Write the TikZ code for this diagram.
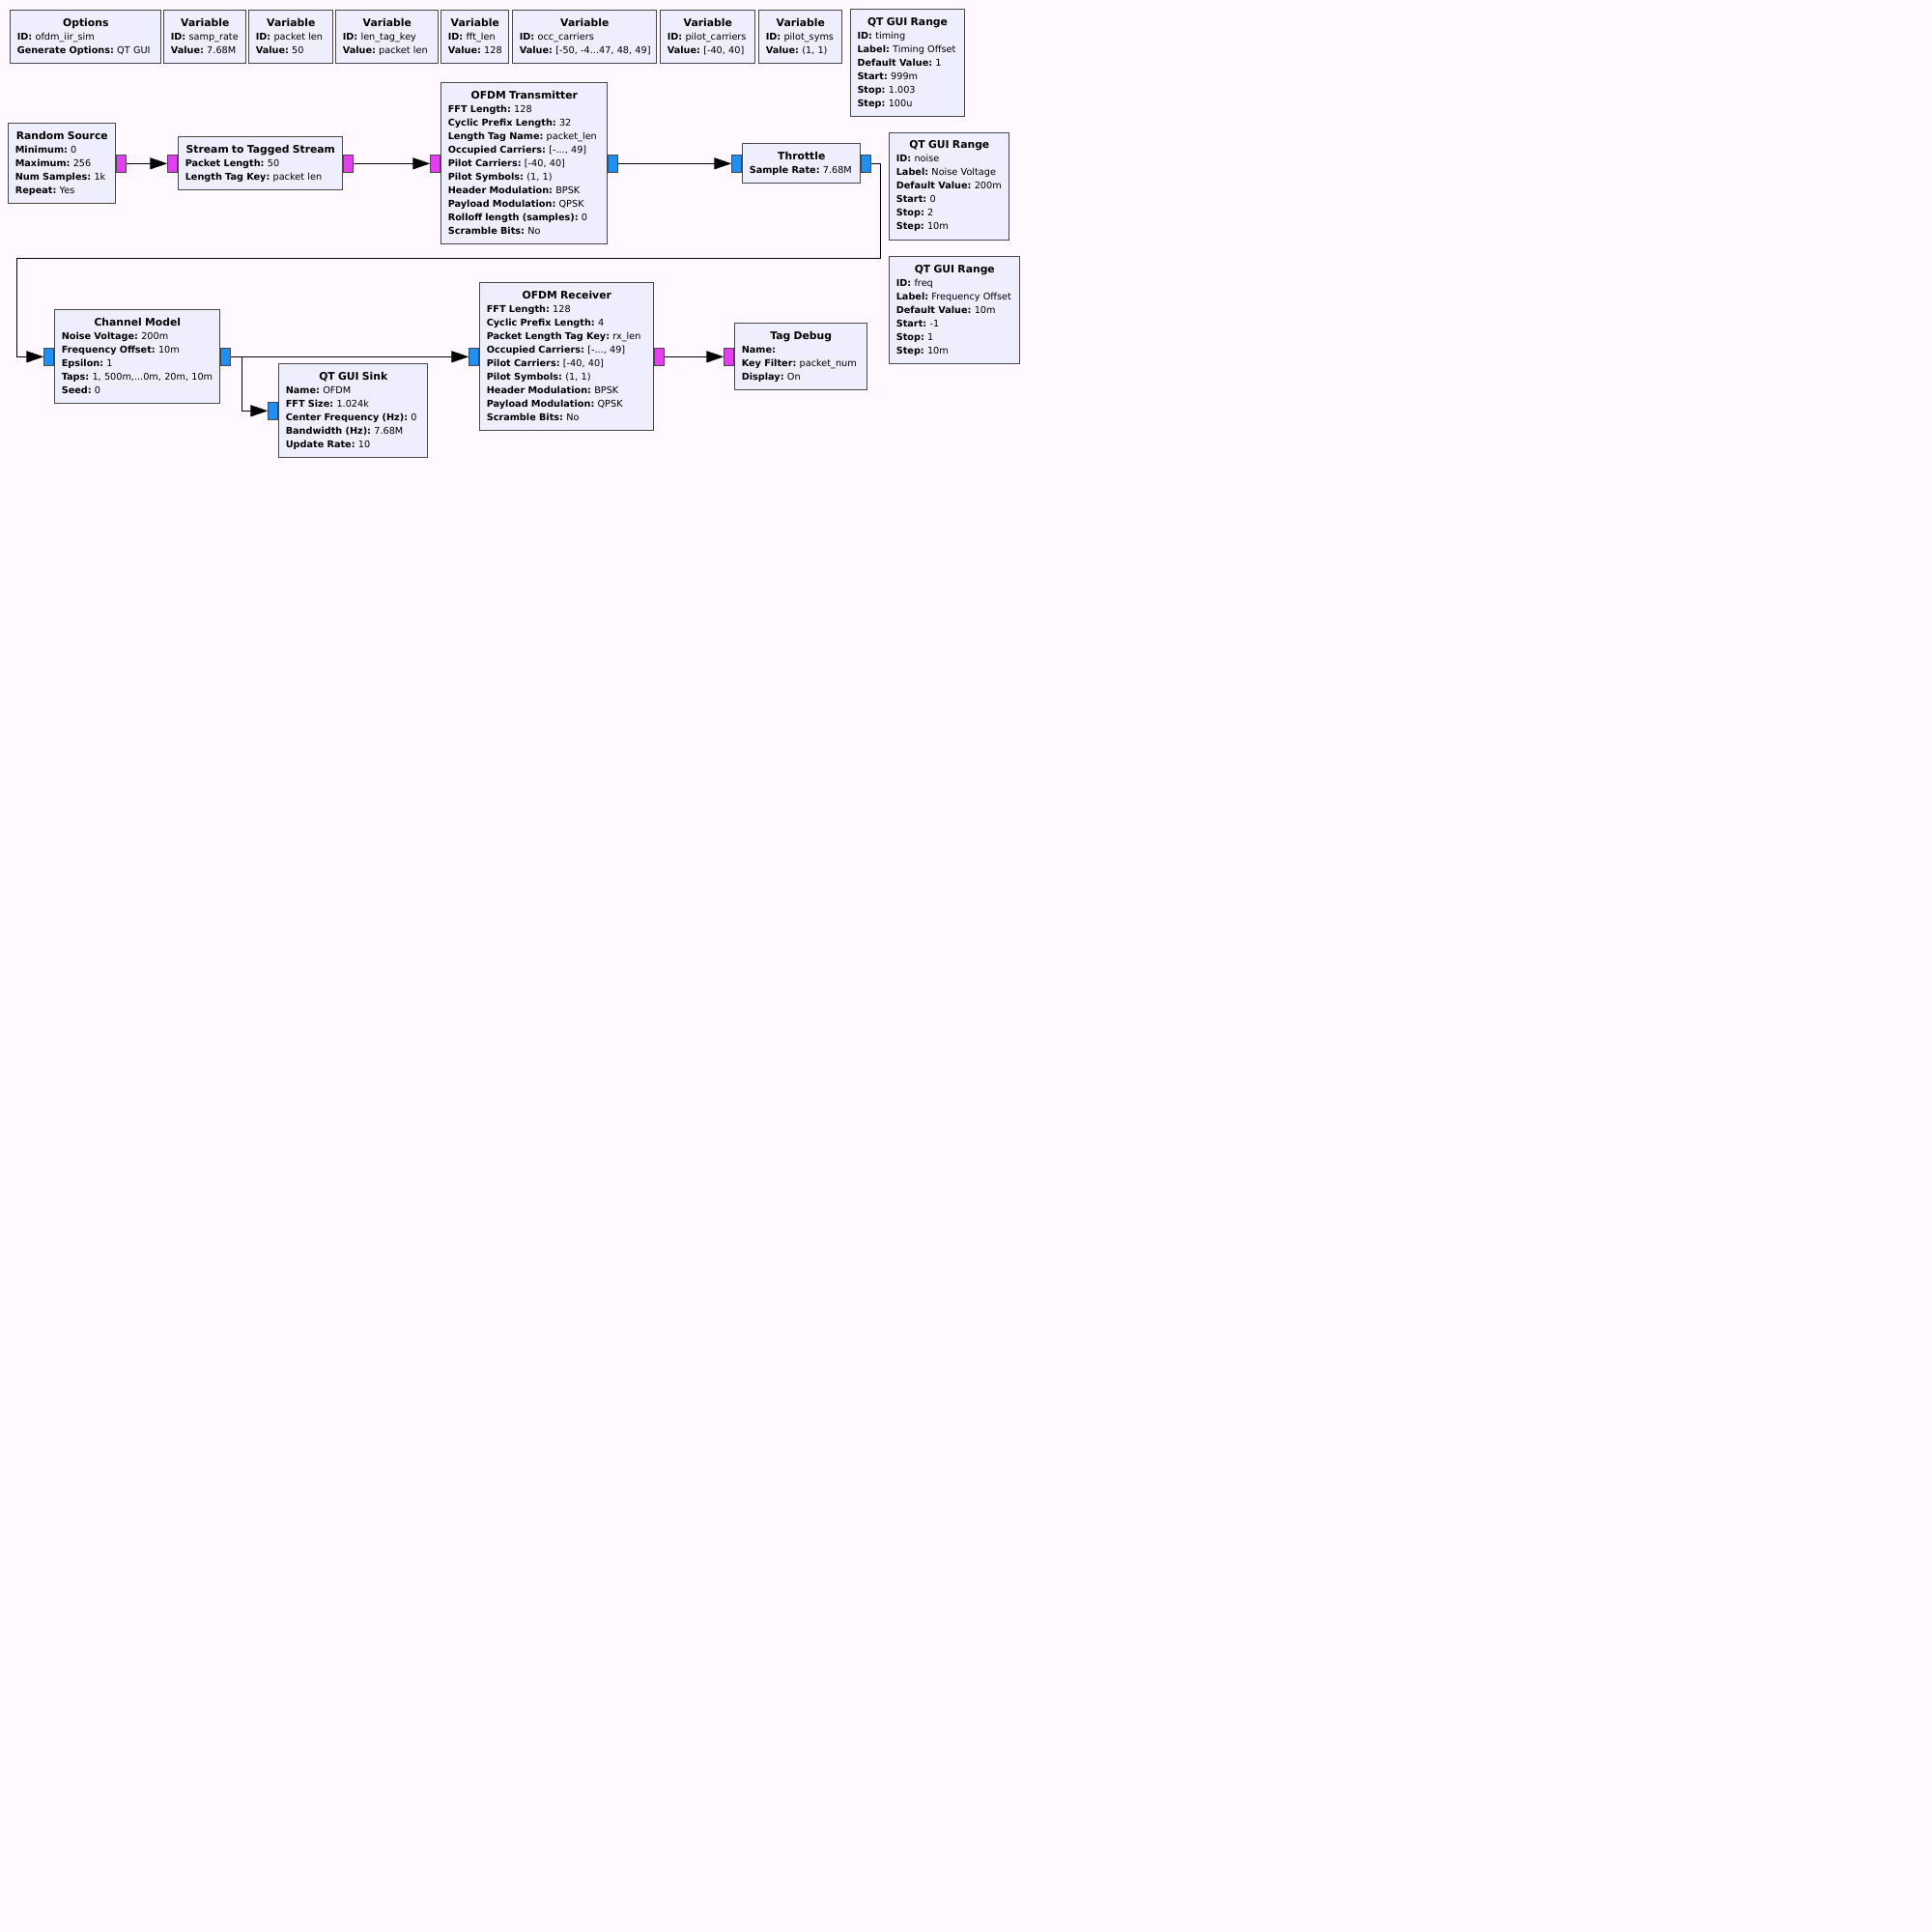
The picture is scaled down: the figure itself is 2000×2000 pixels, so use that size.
\documentclass[tikz,border=0pt]{standalone}
\usepackage{fontspec}
\setmainfont{DejaVu Sans}
\usetikzlibrary{arrows.meta}
\setlength{\parindent}{0pt}
\frenchspacing

\definecolor{bgclr}{RGB}{255,248,255}
\definecolor{blockfill}{RGB}{238,238,255}
\definecolor{boxline}{RGB}{72,72,72}
\definecolor{byteclr}{RGB}{224,64,240}
\definecolor{cplxclr}{RGB}{32,144,240}

\newcommand{\ttl}[1]{\makebox[\hsize]{\fontsize{10.8}{14}\selectfont\bfseries #1}\strut}
\newcommand{\kv}[2]{\mbox{\textbf{#1:} #2}\strut}

\tikzset{
  blk/.style={draw=boxline, fill=blockfill, line width=1pt, anchor=north west,
    inner xsep=7pt, inner ysep=6.5pt, align=left, text width=#1,
    font=\fontsize{9.7}{14}\selectfont},
  port/.style={draw=boxline, line width=1pt, fill=#1, minimum width=10pt,
    minimum height=18pt, inner sep=0pt},
  wire/.style={-{Triangle[length=18pt,width=12pt]}, line width=1pt}
}

\begin{document}
\begin{tikzpicture}[x=1pt,y=-1pt]
\fill[bgclr] (0,0) rectangle (2000,2000);
\useasboundingbox (0,0) rectangle (2000,2000);

% variables and options
\node[blk=142pt] (opts) at (10.3,10.3) {\ttl{Options}\\\kv{ID}{ofdm\_iir\_sim}\\\kv{Generate Options}{QT GUI}};
\node[blk=71pt] (vrate) at (169.3,10.3) {\ttl{Variable}\\\kv{ID}{samp\_rate}\\\kv{Value}{7.68M}};
\node[blk=73pt] (vplen) at (257.3,10.3) {\ttl{Variable}\\\kv{ID}{packet len}\\\kv{Value}{50}};
\node[blk=92pt] (vtag) at (347.3,10.3) {\ttl{Variable}\\\kv{ID}{len\_tag\_key}\\\kv{Value}{packet len}};
\node[blk=56pt] (vfft) at (456.3,10.3) {\ttl{Variable}\\\kv{ID}{fft\_len}\\\kv{Value}{128}};
\node[blk=135pt] (vocc) at (530.3,10.3) {\ttl{Variable}\\\kv{ID}{occ\_carriers}\\\kv{Value}{[-50, -4...47, 48, 49]}};
\node[blk=84pt] (vpcar) at (683.3,10.3) {\ttl{Variable}\\\kv{ID}{pilot\_carriers}\\\kv{Value}{[-40, 40]}};
\node[blk=72pt] (vpsym) at (785.3,10.3) {\ttl{Variable}\\\kv{ID}{pilot\_syms}\\\kv{Value}{(1, 1)}};

% gui ranges
\node[blk=104pt] (rtime) at (880,9.3) {\ttl{QT GUI Range}\\\kv{ID}{timing}\\\kv{Label}{Timing Offset}\\\kv{Default Value}{1}\\\kv{Start}{999m}\\\kv{Stop}{1.003}\\\kv{Step}{100u}};
\node[blk=110pt] (rnoise) at (920.3,137) {\ttl{QT GUI Range}\\\kv{ID}{noise}\\\kv{Label}{Noise Voltage}\\\kv{Default Value}{200m}\\\kv{Start}{0}\\\kv{Stop}{2}\\\kv{Step}{10m}};
\node[blk=121pt] (rfreq) at (920.3,265.3) {\ttl{QT GUI Range}\\\kv{ID}{freq}\\\kv{Label}{Frequency Offset}\\\kv{Default Value}{10m}\\\kv{Start}{-1}\\\kv{Stop}{1}\\\kv{Step}{10m}};

% transmit chain
\node[blk=97pt] (rsrc) at (8.3,127.3) {\ttl{Random Source}\\\kv{Minimum}{0}\\\kv{Maximum}{256}\\\kv{Num Samples}{1k}\\\kv{Repeat}{Yes}};
\node[blk=156pt] (s2t) at (184.3,141.3) {\ttl{Stream to Tagged Stream}\\\kv{Packet Length}{50}\\\kv{Length Tag Key}{packet len}};
\node[blk=158pt] (tx) at (456.3,85.3) {\ttl{OFDM Transmitter}\\\kv{FFT Length}{128}\\\kv{Cyclic Prefix Length}{32}\\\kv{Length Tag Name}{packet\_len}\\\kv{Occupied Carriers}{[-..., 49]}\\\kv{Pilot Carriers}{[-40, 40]}\\\kv{Pilot Symbols}{(1, 1)}\\\kv{Header Modulation}{BPSK}\\\kv{Payload Modulation}{QPSK}\\\kv{Rolloff length (samples)}{0}\\\kv{Scramble Bits}{No}};
\node[blk=108pt] (thr) at (768.3,148.3) {\ttl{Throttle}\\\kv{Sample Rate}{7.68M}};

% receive chain
\node[blk=157pt] (chm) at (56.3,320.3) {\ttl{Channel Model}\\\kv{Noise Voltage}{200m}\\\kv{Frequency Offset}{10m}\\\kv{Epsilon}{1}\\\kv{Taps}{1, 500m,...0m, 20m, 10m}\\\kv{Seed}{0}};
\node[blk=140pt] (sink) at (288.3,376.3) {\ttl{QT GUI Sink}\\\kv{Name}{OFDM}\\\kv{FFT Size}{1.024k}\\\kv{Center Frequency (Hz)}{0}\\\kv{Bandwidth (Hz)}{7.68M}\\\kv{Update Rate}{10}};
\node[blk=166pt] (rx) at (496.3,292.3) {\ttl{OFDM Receiver}\\\kv{FFT Length}{128}\\\kv{Cyclic Prefix Length}{4}\\\kv{Packet Length Tag Key}{rx\_len}\\\kv{Occupied Carriers}{[-..., 49]}\\\kv{Pilot Carriers}{[-40, 40]}\\\kv{Pilot Symbols}{(1, 1)}\\\kv{Header Modulation}{BPSK}\\\kv{Payload Modulation}{QPSK}\\\kv{Scramble Bits}{No}};
\node[blk=123pt] (tag) at (760.3,334.3) {\ttl{Tag Debug}\\\kv{Name}{}\\\kv{Key Filter}{packet\_num}\\\kv{Display}{On}};

% ports
\node[port=byteclr, anchor=west] (rsrc-o) at (rsrc.east) {};
\node[port=byteclr, anchor=east] (s2t-i) at (s2t.west) {};
\node[port=byteclr, anchor=west] (s2t-o) at (s2t.east) {};
\node[port=byteclr, anchor=east] (tx-i) at (tx.west) {};
\node[port=cplxclr, anchor=west] (tx-o) at (tx.east) {};
\node[port=cplxclr, anchor=east] (thr-i) at (thr.west) {};
\node[port=cplxclr, anchor=west] (thr-o) at (thr.east) {};
\node[port=cplxclr, anchor=east] (chm-i) at (chm.west) {};
\node[port=cplxclr, anchor=west] (chm-o) at (chm.east) {};
\node[port=cplxclr, anchor=east] (sink-i) at (sink.west) {};
\node[port=cplxclr, anchor=east] (rx-i) at (rx.west) {};
\node[port=byteclr, anchor=west] (rx-o) at (rx.east) {};
\node[port=byteclr, anchor=east] (tag-i) at (tag.west) {};

% connections
\coordinate (fb1) at (911.7,267.7);
\coordinate (fb2) at (17.3,267.7);
\draw[wire] (rsrc-o) -- (s2t-i);
\draw[wire] (s2t-o) -- (tx-i);
\draw[wire] (tx-o) -- (thr-i);
\draw[wire] (thr-o.east) -| (fb1) -- (fb2) |- (chm-i.west);
\draw[wire] (chm-o) -- (rx-i);
\draw[wire] (chm-o.east) -- ++(11.6,0) |- (sink-i.west);
\draw[wire] (rx-o) -- (tag-i);

\end{tikzpicture}
\end{document}
